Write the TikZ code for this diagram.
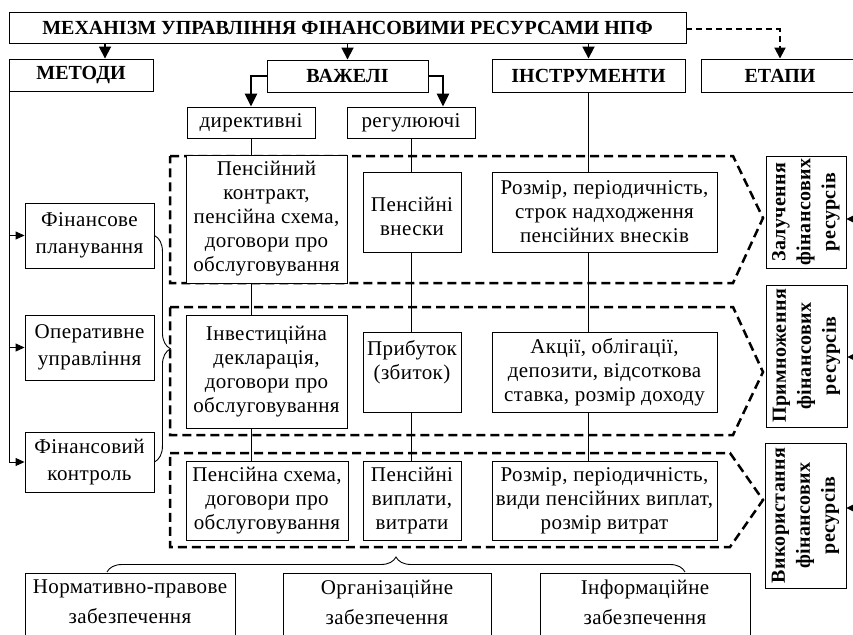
\documentclass[tikz,border=0pt]{standalone}
\usepackage{fontspec}
\setmainfont{Liberation Serif}
\usetikzlibrary{arrows.meta,decorations.pathreplacing}
\newcommand{\bx}[7][]{\node[box,minimum width={#5-#3},minimum height={#6-#4},#1] (#2) at ({(#3+#5)/2},{(#4+#6)/2}) {#7};}
\newcommand{\bodyfont}{\fontsize{21}{24}\selectfont\addfontfeatures{LetterSpace=2}}
\begin{document}
\begin{tikzpicture}[x=1pt,y=-1pt,
  box/.style={draw,line width=0.9pt,fill=white,inner sep=0pt,align=center,font=\bodyfont},
  hdr/.style={box,font=\bfseries\fontsize{20}{22}\selectfont},
  meth/.style={font=\fontsize{21}{27}\selectfont\addfontfeatures{LetterSpace=2}},
  stg/.style={box,rotate=90,font=\bfseries\fontsize{20}{25}\selectfont\addfontfeatures{LetterSpace=2}},
  arr/.style={line width=1.8pt,-{Triangle[length=12pt,width=12pt]}},
  tarr/.style={line width=2.6pt,-{Triangle[length=13pt,width=12pt]}},
  darr/.style={line width=2pt,dash pattern=on 6pt off 4pt,-{Triangle[length=11pt,width=11pt]}},
  marr/.style={line width=0.9pt,-{Triangle[length=9pt,width=8pt]}},
  sarr/.style={line width=0.9pt,-{Triangle[length=7pt,width=7pt]}},
  thin/.style={line width=0.9pt},
  grp/.style={line width=2.5pt,dash pattern=on 9pt off 5pt},
  brc/.style={line width=0.9pt,decorate},
  plain/.style={align=center,inner sep=0pt,font=\fontsize{21}{30}\selectfont\addfontfeatures{LetterSpace=2}}
]
\useasboundingbox (0,0) rectangle (853,634);
\clip (0,0) rectangle (853,634);
% headers
\bx[hdr]{title}{9}{12}{686}{43}{МЕХАНІЗМ УПРАВЛІННЯ ФІНАНСОВИМИ РЕСУРСАМИ НПФ}
\bx[hdr]{metody}{9}{59}{153}{91}{МЕТОДИ}
\bx[hdr]{vazheli}{267}{60}{428}{92}{ВАЖЕЛІ}
\bx[hdr]{instr}{492}{59}{685}{92}{ІНСТРУМЕНТИ}
\bx[hdr]{etapy}{701}{59}{859}{92}{ЕТАПИ}
\bx{dyr}{187}{107}{315}{138}{директивні}
\bx{reg}{347}{107}{475}{138}{регулюючі}
% methods
\bx[meth]{m1}{25}{203}{154}{268}{Фінансове\\планування}
\bx[meth]{m2}{25}{315}{154}{380}{Оперативне\\управління}
\bx[meth]{m3}{25}{432}{154}{492}{Фінансовий\\контроль}
% dashed stage groups
\draw[grp] (170,156) -- (733,156) -- (763,218) -- (733,283) -- (170,283) -- cycle;
\draw[grp] (170,307) -- (733,307) -- (763,372) -- (733,435) -- (170,435) -- cycle;
\draw[grp] (170,453) -- (730,453) -- (763,500) -- (730,547) -- (170,547) -- cycle;
% content boxes
\bx{a1}{186}{155}{347}{283}{Пенсійний\\контракт,\\пенсійна схема,\\договори про\\обслуговування}
\bx{b1}{363}{172}{461}{252}{\mbox{}\\Пенсійні\\внески}
\bx{c1}{492}{172}{717}{252}{Розмір, періодичність,\\строк надходження\\пенсійних внесків}
\bx{a2}{186}{315}{347}{428}{Інвестиційна\\декларація,\\договори про\\обслуговування}
\bx{b2}{363}{332}{461}{412}{Прибуток\\(збиток)\\\mbox{}}
\bx{c2}{492}{332}{717}{412}{Акції, облігації,\\депозити, відсоткова\\ставка, розмір доходу}
\bx{a3}{186}{461}{348}{540}{Пенсійна схема,\\договори про\\обслуговування}
\bx{b3}{363}{461}{461}{540}{Пенсійні\\виплати,\\витрати}
\bx{c3}{492}{461}{717}{540}{Розмір, періодичність,\\види пенсійних виплат,\\розмір витрат}
% stages
\node[stg,minimum width=112,minimum height=80] (s1) at (806,212) {Залучення\\фінансових\\ресурсів};
\node[stg,minimum width=142,minimum height=81] (s2) at (806.5,356) {Примноження\\фінансових\\ресурсів};
\node[stg,minimum width=145,minimum height=81] (s3) at (805.5,515.5) {Використання\\фінансових\\ресурсів};
% bottom boxes
\node[box,minimum width=210,minimum height=90] (n1) at (130,618) {};
\node[box,minimum width=208,minimum height=90] (n2) at (387,618) {};
\node[box,minimum width=210,minimum height=90] (n3) at (645,618) {};
\node[plain] (n1t) at (130,602) {Нормативно-правове\\забезпечення};
\node[plain] (n2t) at (387,602) {Організаційне\\забезпечення};
\node[plain] (n3t) at (645,602) {Інформаційне\\забезпечення};
% connectors from title
\draw[arr] ([xshift=24pt]metody.north |- title.south) -- ([xshift=24pt]metody.north);
\draw[arr] (title.south -| vazheli.north) -- (vazheli.north);
\draw[arr] (title.south -| instr.north) -- (instr.north);
\draw[darr] ([yshift=-2pt]title.east) -| (etapy.north);
\draw[tarr] (vazheli.west) -| (dyr.north);
\draw[tarr] (vazheli.east) -| ([xshift=32pt]reg.north);
% vertical lines
\draw[thin] (dyr.south) -- (dyr.south |- a1.north);
\draw[thin] (a1.south -| dyr.south) -- (a2.north -| dyr.south);
\draw[thin] (a2.south -| dyr.south) -- (a3.north -| dyr.south);
\draw[thin] (reg.south) -- (reg.south |- b1.north);
\draw[thin] (b1.south -| reg.south) -- (b2.north -| reg.south);
\draw[thin] (b2.south -| reg.south) -- (b3.north -| reg.south);
\draw[thin] (instr.south) -- (instr.south |- c1.north);
\draw[thin] (c1.south -| instr.south) -- (c2.north -| instr.south);
\draw[thin] (c2.south -| instr.south) -- (c3.north -| instr.south);
% methods line
\draw[marr] ([xshift=1pt]metody.south west) |- (m3.west);
\draw[marr] ([xshift=1pt]metody.south west |- m1.west) -- (m1.west);
\draw[marr] ([xshift=1pt]metody.south west |- m2.west) -- (m2.west);
% braces
\draw[brc,decoration={brace,amplitude=16pt}] (m1.east) -- (m3.east);
\draw[brc,decoration={brace,amplitude=15pt}] (107,572) -- (685,572);
% stage arrows
\coordinate (r1) at (860,219);
\coordinate (r2) at (860,357);
\coordinate (r3) at (860,508);
\draw[sarr] (r1) -- (s1.south |- r1);
\draw[sarr] (r2) -- (s2.south |- r2);
\draw[sarr] (r3) -- (s3.south |- r3);
\end{tikzpicture}
\end{document}
